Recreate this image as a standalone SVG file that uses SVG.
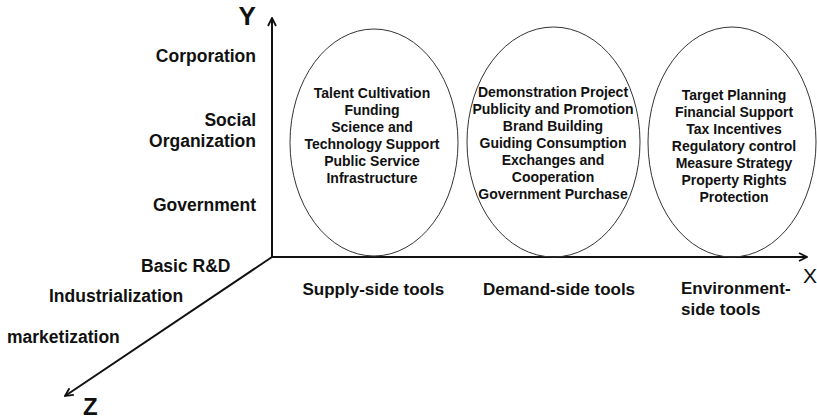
<svg xmlns="http://www.w3.org/2000/svg" width="817" height="419" viewBox="0 0 817 419">
  <style>
    text { font-family: "Liberation Sans", Arial, Helvetica, sans-serif; fill: #111; }
    .lbl { font-size: 17.5px; font-weight: bold; }
    .tool { font-size: 17px; font-weight: bold; }
    .item { font-size: 14px; font-weight: bold; text-anchor: middle; }
    .axis { stroke: #111; stroke-width: 2; fill: none; }
    .oval { stroke: #333; stroke-width: 1; fill: none; }
  </style>
  <defs>
    <marker id="arrow" viewBox="0 0 10 10" refX="9" refY="5" markerWidth="10" markerHeight="10" markerUnits="userSpaceOnUse" orient="auto">
      <path d="M1,1 L9,5 L1,9" fill="none" stroke="#111" stroke-width="1.8"/>
    </marker>
  </defs>

  <!-- axes -->
  <g id="connectors">
    <line class="axis" x1="272" y1="258" x2="272" y2="18" marker-end="url(#arrow)"/>
    <line class="axis" x1="271" y1="257" x2="807" y2="257" marker-end="url(#arrow)"/>
    <line class="axis" x1="272" y1="257" x2="65" y2="396" marker-end="url(#arrow)"/>
  </g>

  <g id="axis-labels">
    <text x="238.5" y="25" style="font-size:26px;font-weight:bold">Y</text>
    <text x="803" y="283" style="font-size:21px">X</text>
    <text x="83" y="415" style="font-size:24px;font-weight:bold">Z</text>
  </g>

  <!-- Y axis: actors -->
  <g id="y-labels" class="lbl">
    <text x="256" y="62" text-anchor="end">Corporation</text>
    <text x="256" y="126" text-anchor="end">Social</text>
    <text x="256" y="147" text-anchor="end">Organization</text>
    <text x="256" y="211" text-anchor="end">Government</text>
  </g>

  <!-- Z axis: stages -->
  <g id="z-labels" class="lbl">
    <text x="141" y="272">Basic R&amp;D</text>
    <text x="49" y="302">Industrialization</text>
    <text x="7" y="343">marketization</text>
  </g>

  <!-- X axis: tool types -->
  <g id="x-labels" class="tool">
    <text x="302.5" y="295">Supply-side tools</text>
    <text x="483" y="295">Demand-side tools</text>
    <text x="681" y="294">Environment-</text>
    <text x="681" y="315">side tools</text>
  </g>

  <g id="supply-side">
    <ellipse class="oval" cx="374" cy="142.5" rx="84" ry="113.5"/>
    <text class="item" x="372" y="98">Talent Cultivation</text>
    <text class="item" x="372" y="115">Funding</text>
    <text class="item" x="372" y="132">Science and</text>
    <text class="item" x="372" y="149">Technology Support</text>
    <text class="item" x="372" y="166">Public Service</text>
    <text class="item" x="372" y="183">Infrastructure</text>
  </g>

  <g id="demand-side">
    <ellipse class="oval" cx="553.5" cy="142" rx="86.5" ry="115"/>
    <text class="item" x="553" y="97">Demonstration Project</text>
    <text class="item" x="553" y="114">Publicity and Promotion</text>
    <text class="item" x="553" y="131">Brand Building</text>
    <text class="item" x="553" y="148">Guiding Consumption</text>
    <text class="item" x="553" y="165">Exchanges and</text>
    <text class="item" x="553" y="182">Cooperation</text>
    <text class="item" x="553" y="199">Government Purchase</text>
  </g>

  <g id="environment-side">
    <ellipse class="oval" cx="732" cy="142" rx="84" ry="115"/>
    <text class="item" x="734" y="100">Target Planning</text>
    <text class="item" x="734" y="117">Financial Support</text>
    <text class="item" x="734" y="134">Tax Incentives</text>
    <text class="item" x="734" y="151">Regulatory control</text>
    <text class="item" x="734" y="168">Measure Strategy</text>
    <text class="item" x="734" y="185">Property Rights</text>
    <text class="item" x="734" y="202">Protection</text>
  </g>
</svg>
